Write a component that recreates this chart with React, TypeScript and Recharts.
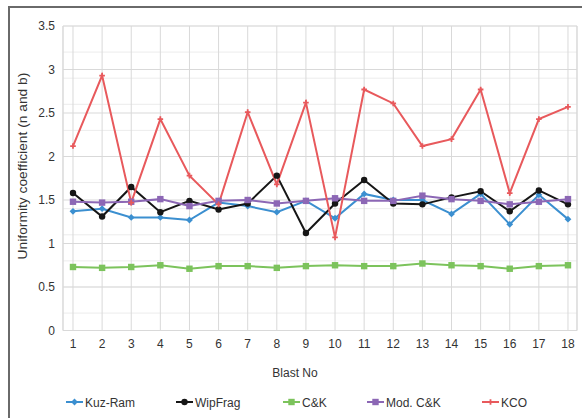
import { LineChart, Line, XAxis, YAxis, CartesianGrid, ReferenceLine } from 'recharts'

const blasts = [1, 2, 3, 4, 5, 6, 7, 8, 9, 10, 11, 12, 13, 14, 15, 16, 17, 18]
const kuzRam = [1.37, 1.4, 1.3, 1.3, 1.27, 1.47, 1.43, 1.36, 1.49, 1.29, 1.57, 1.5, 1.5, 1.34, 1.57, 1.22, 1.56, 1.28]
const wipFrag = [1.58, 1.31, 1.65, 1.36, 1.49, 1.39, 1.46, 1.78, 1.12, 1.46, 1.73, 1.46, 1.45, 1.53, 1.6, 1.37, 1.61, 1.45]
const ck = [0.73, 0.72, 0.73, 0.75, 0.71, 0.74, 0.74, 0.72, 0.74, 0.75, 0.74, 0.74, 0.77, 0.75, 0.74, 0.71, 0.74, 0.75]
const modCk = [1.48, 1.47, 1.48, 1.51, 1.43, 1.49, 1.5, 1.46, 1.49, 1.52, 1.49, 1.49, 1.55, 1.51, 1.49, 1.45, 1.48, 1.51]
const kco = [2.12, 2.93, 1.47, 2.43, 1.78, 1.45, 2.51, 1.68, 2.62, 1.07, 2.77, 2.61, 2.12, 2.2, 2.77, 1.58, 2.43, 2.57]

const yTicks = [0, 0.5, 1, 1.5, 2, 2.5, 3, 3.5]
// minor gridlines every 0.1
const minorLines = Array.from({ length: 36 }, (_, i) => Math.round(i * 10) / 100)

const data = blasts.map((b, i) => ({
  blast: b,
  kuzRam: kuzRam[i],
  wipFrag: wipFrag[i],
  ck: ck[i],
  modCk: modCk[i],
  kco: kco[i],
}))

const FONT = '"Liberation Sans", Arial, sans-serif'
const X_MIN = 0.657
const X_MAX = 18.31

type Marker = 'diamond' | 'circle' | 'square' | 'star'

const series: { key: string; name: string; color: string; marker: Marker }[] = [
  { key: 'kuzRam', name: 'Kuz-Ram', color: '#3b8fd0', marker: 'diamond' },
  { key: 'wipFrag', name: 'WipFrag', color: '#161616', marker: 'circle' },
  { key: 'ck', name: 'C&K', color: '#7cc35c', marker: 'square' },
  { key: 'modCk', name: 'Mod. C&K', color: '#8c67b5', marker: 'square' },
  { key: 'kco', name: 'KCO', color: '#e8595c', marker: 'star' },
]

function markerShape(marker: Marker, cx: number, cy: number, color: string, key?: string) {
  if (marker === 'circle') return <circle key={key} cx={cx} cy={cy} r={3.2} fill={color} />
  if (marker === 'square') return <rect key={key} x={cx - 3.2} y={cy - 3.2} width={6.4} height={6.4} fill={color} />
  if (marker === 'diamond')
    return <path key={key} d={`M${cx},${cy - 3.4}L${cx + 3.4},${cy}L${cx},${cy + 3.4}L${cx - 3.4},${cy}Z`} fill={color} />
  return (
    <path
      key={key}
      d={`M${cx - 2.8},${cy}L${cx + 2.8},${cy}M${cx},${cy - 2.8}L${cx},${cy + 2.8}`}
      stroke={color}
      strokeWidth={1.8}
    />
  )
}

function makeDot(marker: Marker, color: string) {
  return (props: any) => {
    if (props.cx == null || props.cy == null) return <g key={props.index} />
    return markerShape(marker, props.cx, props.cy, color, `d${props.index}`)
  }
}

const legendX = [66, 176, 283, 367, 482]

export default function App() {
  return (
    <div style={{ position: 'absolute', left: 0, top: 0, width: 582, height: 418, overflow: 'hidden', background: '#fff' }}>
      {/* outer chart frame */}
      <div style={{ position: 'absolute', left: 8, top: 6, width: 640, height: 460, border: '2px solid #6a6a6a' }} />
      <LineChart
        width={582}
        height={418}
        data={data}
        margin={{ top: 26, right: 5, left: 8, bottom: 67.5 }}
        style={{ position: 'absolute', left: 0, top: 0, fontFamily: FONT }}
      >
        <CartesianGrid horizontalValues={minorLines} vertical={false} stroke="#ececec" />
        <CartesianGrid stroke="#d9d9d9" />
        <ReferenceLine x={X_MAX} stroke="#d9d9d9" ifOverflow="extendDomain" />
        <XAxis
          dataKey="blast"
          type="number"
          domain={[X_MIN, X_MAX]}
          ticks={blasts}
          allowDataOverflow
          height={20}
          tickSize={0}
          tickMargin={9}
          tickLine={false}
          axisLine={{ stroke: '#d9d9d9' }}
          tick={{ fill: '#333', fontSize: 12, fontFamily: FONT }}
        />
        <YAxis
          type="number"
          domain={[0, 3.5]}
          ticks={yTicks}
          width={55}
          tickSize={0}
          tickMargin={8}
          tickLine={false}
          axisLine={{ stroke: '#d9d9d9' }}
          tick={{ fill: '#333', fontSize: 12, fontFamily: FONT }}
        />
        {series.map((s) => (
          <Line
            key={s.key}
            dataKey={s.key}
            name={s.name}
            type="linear"
            stroke={s.color}
            strokeWidth={2}
            dot={makeDot(s.marker, s.color)}
            activeDot={false}
            isAnimationActive={false}
          />
        ))}
      </LineChart>
      <svg width={582} height={418} style={{ position: 'absolute', left: 0, top: 0, pointerEvents: 'none' }}>
        <text
          transform="translate(27,166) rotate(-90) scale(1.15,1)"
          textAnchor="middle"
          fontFamily={FONT}
          fontSize={12}
          fill="#333"
        >
          Uniformity coefficient (n and b)
        </text>
        <text x={295} y={377} textAnchor="middle" fontFamily={FONT} fontSize={12} fill="#333">
          Blast No
        </text>
        {series.map((s, i) => (
          <g key={s.key}>
            <line x1={legendX[i]} x2={legendX[i] + 17} y1={402} y2={402} stroke={s.color} strokeWidth={2} />
            {markerShape(s.marker, legendX[i] + 8.5, 402, s.color)}
            <text x={legendX[i] + 19} y={406.5} fontFamily={FONT} fontSize={12} fill="#333">
              {s.name}
            </text>
          </g>
        ))}
      </svg>
    </div>
  )
}
